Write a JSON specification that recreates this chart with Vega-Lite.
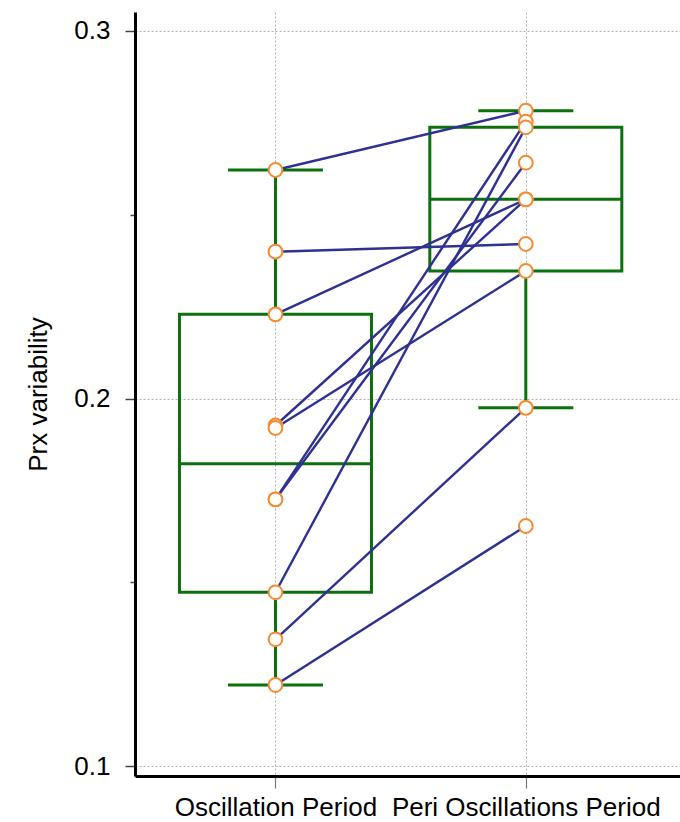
{
  "$schema": "https://vega.github.io/schema/vega-lite/v6.json",
  "autosize": "none",
  "width": 545,
  "height": 764,
  "padding": {"left": 135, "top": 12, "right": 0, "bottom": 46},
  "background": "white",
  "config": {"view": {"stroke": null}, "font": "Liberation Sans"},
  "datasets": {
    "obs": [
      {"id": 1, "g": 1, "v": 0.26218}, {"id": 1, "g": 2, "v": 0.27831},
      {"id": 2, "g": 1, "v": 0.23995}, {"id": 2, "g": 2, "v": 0.24204},
      {"id": 3, "g": 1, "v": 0.22291}, {"id": 3, "g": 2, "v": 0.25420},
      {"id": 4, "g": 1, "v": 0.19265}, {"id": 4, "g": 2, "v": 0.25420},
      {"id": 5, "g": 1, "v": 0.19197}, {"id": 5, "g": 2, "v": 0.23469},
      {"id": 6, "g": 1, "v": 0.17257}, {"id": 6, "g": 2, "v": 0.27532},
      {"id": 7, "g": 1, "v": 0.17257}, {"id": 7, "g": 2, "v": 0.26416},
      {"id": 8, "g": 1, "v": 0.14727}, {"id": 8, "g": 2, "v": 0.27380},
      {"id": 9, "g": 1, "v": 0.13448}, {"id": 9, "g": 2, "v": 0.19747},
      {"id": 10, "g": 1, "v": 0.12204}, {"id": 10, "g": 2, "v": 0.16531}
    ],
    "box": [
      {"g": 1, "lo": 0.12204, "q1": 0.14727, "med": 0.18227, "q3": 0.22291, "hi": 0.26218},
      {"g": 2, "lo": 0.19747, "q1": 0.23469, "med": 0.25420, "q3": 0.27380, "hi": 0.27831}
    ]
  },
  "layer": [
    {
      "data": {"name": "box"},
      "mark": {"type": "rule", "color": "#0c700c", "strokeWidth": 3},
      "encoding": {
        "x": {
          "field": "g", "type": "quantitative", "title": null,
          "scale": {"domain": [0.4588, 2.596], "nice": false, "zero": false},
          "axis": {
            "values": [1, 2],
            "labelExpr": "datum.value == 1 ? 'Oscillation Period' : 'Peri Oscillations Period'",
            "labelFont": "Liberation Sans", "labelFontSize": 26, "labelColor": "#000",
            "labelLimit": 0,
            "labelPadding": 6, "labelOverlap": false, "labelBound": false, "labelFlush": false,
            "tickSize": 12, "tickColor": "#777", "tickWidth": 1.2,
            "domainColor": "#000", "domainWidth": 3,
            "grid": true, "gridColor": "#b0b0b0", "gridDash": [2, 2], "gridWidth": 1,
            "title": null
          }
        },
        "y": {
          "field": "lo", "type": "quantitative", "title": "Prx variability",
          "scale": {"domain": [0.09728, 0.30517], "nice": false, "zero": false},
          "axis": {
            "values": [0.1, 0.15, 0.2, 0.25, 0.3],
            "labelExpr": "(datum.value == 0.15 || datum.value == 0.25) ? '' : format(datum.value, '.1f')",
            "labelFont": "Liberation Sans", "labelFontSize": 26, "labelColor": "#000",
            "labelPadding": 15,
            "tickSize": {"condition": {"test": "datum.value == 0.15 || datum.value == 0.25", "value": 5}, "value": 10},
            "tickColor": "#444", "tickWidth": 1.5,
            "domainColor": "#000", "domainWidth": 3,
            "grid": true, "gridColor": "#b0b0b0", "gridDash": [2, 2], "gridWidth": 1,
            "gridOpacity": {"condition": {"test": "datum.value == 0.15 || datum.value == 0.25", "value": 0}, "value": 1},
            "title": "Prx variability",
            "titleFont": "Liberation Sans", "titleFontSize": 26, "titleFontWeight": "normal",
            "titleColor": "#000", "titlePadding": 22
          }
        },
        "y2": {"field": "q1"}
      }
    },
    {
      "data": {"name": "box"},
      "mark": {"type": "rule", "color": "#0c700c", "strokeWidth": 3},
      "encoding": {
        "x": {"field": "g", "type": "quantitative", "title": null},
        "y": {"field": "q3", "type": "quantitative", "title": "Prx variability"},
        "y2": {"field": "hi"}
      }
    },
    {
      "data": {"name": "box"},
      "mark": {"type": "tick", "orient": "horizontal", "color": "#0c700c", "size": 95, "thickness": 3, "opacity": 1},
      "encoding": {
        "x": {"field": "g", "type": "quantitative", "title": null},
        "y": {"field": "lo", "type": "quantitative", "title": "Prx variability"}
      }
    },
    {
      "data": {"name": "box"},
      "mark": {"type": "tick", "orient": "horizontal", "color": "#0c700c", "size": 95, "thickness": 3, "opacity": 1},
      "encoding": {
        "x": {"field": "g", "type": "quantitative", "title": null},
        "y": {"field": "hi", "type": "quantitative", "title": "Prx variability"}
      }
    },
    {
      "data": {"name": "box"},
      "mark": {"type": "bar", "size": 192, "fill": "transparent", "stroke": "#0c700c", "strokeWidth": 3},
      "encoding": {
        "x": {"field": "g", "type": "quantitative", "title": null},
        "y": {"field": "q1", "type": "quantitative", "title": "Prx variability"},
        "y2": {"field": "q3"}
      }
    },
    {
      "data": {"name": "box"},
      "mark": {"type": "tick", "orient": "horizontal", "color": "#0c700c", "size": 192, "thickness": 3, "opacity": 1},
      "encoding": {
        "x": {"field": "g", "type": "quantitative", "title": null},
        "y": {"field": "med", "type": "quantitative", "title": "Prx variability"}
      }
    },
    {
      "data": {"name": "obs"},
      "mark": {"type": "line", "color": "#2e3192", "strokeWidth": 2.4},
      "encoding": {
        "x": {"field": "g", "type": "quantitative", "title": null},
        "y": {"field": "v", "type": "quantitative", "title": "Prx variability"},
        "detail": {"field": "id", "type": "nominal"}
      }
    },
    {
      "data": {"name": "obs"},
      "mark": {"type": "point", "shape": "circle", "filled": false, "fill": "white", "fillOpacity": 1, "stroke": "#f58a30", "strokeWidth": 2, "size": 190, "opacity": 1},
      "encoding": {
        "x": {"field": "g", "type": "quantitative", "title": null},
        "y": {"field": "v", "type": "quantitative", "title": "Prx variability"}
      }
    }
  ]
}
